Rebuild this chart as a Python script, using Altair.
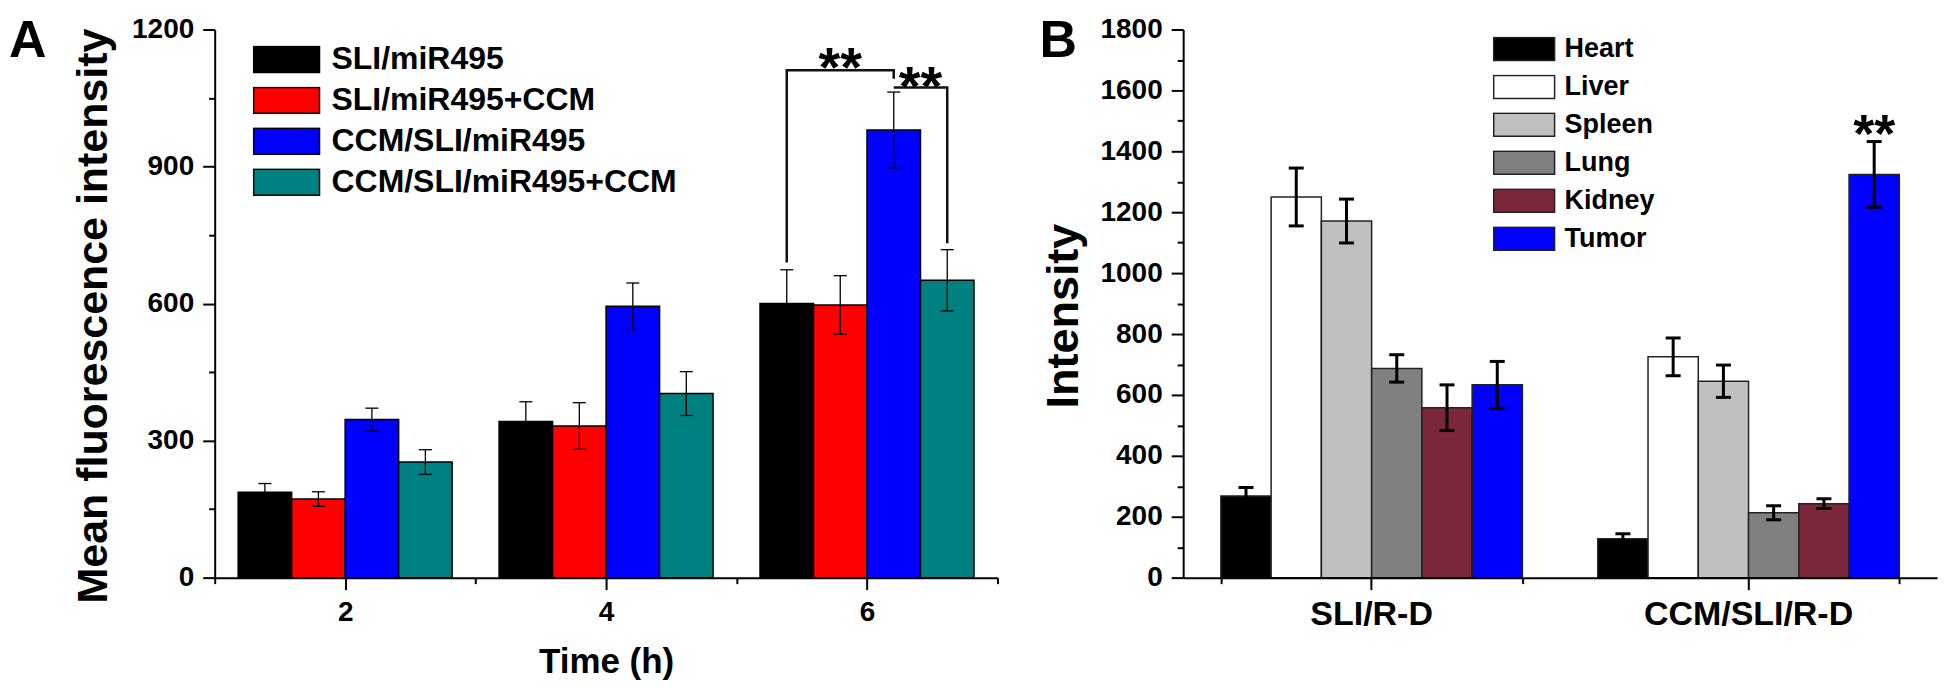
import altair as alt
import pandas as pd

FONT = "Liberation Sans"

# ---------------- Panel A data ----------------
times = [2, 4, 6]
series_a = ["SLI/miR495", "SLI/miR495+CCM", "CCM/SLI/miR495", "CCM/SLI/miR495+CCM"]
colors_a = ["#000000", "#ff0000", "#0000ff", "#008080"]
sli_mir495 = [187, 342, 600]
sli_mir495_err = [19, 43, 74]
sli_mir495_ccm = [172, 332, 597]
sli_mir495_ccm_err = [16, 51, 64]
ccm_sli_mir495 = [346, 594, 980]
ccm_sli_mir495_err = [25, 51, 83]
ccm_sli_mir495_ccm = [253, 403, 651]
ccm_sli_mir495_ccm_err = [27, 48, 67]
y_ticks_a = [0, 300, 600, 900, 1200]
y_minor_a = [150, 450, 750, 1050]
x_minor_a = [1, 3, 5, 7]
bracket1_y = [690, 1111, 1111, 1092]   # SLI/miR495 -> CCM/SLI/miR495 at 6 h
bracket2_y = [1073, 1073, 732]         # CCM/SLI/miR495 -> CCM/SLI/miR495+CCM at 6 h
stars_a_y = [1146, 1104]

# ---------------- Panel B data ----------------
groups_b = ["SLI/R-D", "CCM/SLI/R-D"]
organs = ["Heart", "Liver", "Spleen", "Lung", "Kidney", "Tumor"]
colors_b = ["#000000", "#ffffff", "#c0c0c0", "#808080", "#7b263b", "#0000ff"]
sli_rd = [268, 1250, 1171, 687, 558, 633]
sli_rd_err = [28, 95, 72, 45, 75, 77]
ccm_sli_rd = [128, 725, 645, 213, 243, 1324]
ccm_sli_rd_err = [16, 62, 53, 23, 16, 108]
y_ticks_b = [0, 200, 400, 600, 800, 1000, 1200, 1400, 1600, 1800]
y_minor_b = [100, 300, 500, 700, 900, 1100, 1300, 1500, 1700]
star_b_y = [1501]

# ---------------- build tables ----------------
BAR_W = 0.41
CAP_A = 0.05
rows = []
pairs_a = [(sli_mir495, sli_mir495_err), (sli_mir495_ccm, sli_mir495_ccm_err),
           (ccm_sli_mir495, ccm_sli_mir495_err), (ccm_sli_mir495_ccm, ccm_sli_mir495_ccm_err)]
for gi, (name, (m, e)) in enumerate(zip(series_a, pairs_a)):
    for t, mv, ev in zip(times, m, e):
        c = t + (gi - 1.5) * BAR_W
        rows.append(dict(Time=t, Series=name, Mean=mv, base=0, lo=mv - ev, hi=mv + ev,
                         x0=c - BAR_W / 2, x1=c + BAR_W / 2, xc=c, c0=c - CAP_A, c1=c + CAP_A))
dfA = pd.DataFrame(rows)


def center(t, gi):
    return t + (gi - 1.5) * BAR_W


bx1 = [center(6, 0), center(6, 0), center(6, 2), center(6, 2)]
bx2 = [center(6, 2), center(6, 3), center(6, 3)]
dfBr = pd.DataFrame({
    "bx": bx1 + bx2,
    "by": bracket1_y + bracket2_y,
    "bid": ["b1"] * 4 + ["b2"] * 3,
    "ord": list(range(4)) + list(range(3)),
})
dfStarA = pd.DataFrame({
    "sx": [(center(6, 0) + center(6, 2)) / 2, (center(6, 2) + center(6, 3)) / 2],
    "sy": stars_a_y,
    "label": ["**", "**"],
})

rowsB = []
for g, (m, e) in zip(groups_b, [(sli_rd, sli_rd_err), (ccm_sli_rd, ccm_sli_rd_err)]):
    for o, mv, ev in zip(organs, m, e):
        rowsB.append(dict(Group=g, Organ=o, Mean=mv, lo=mv - ev, hi=mv + ev))
dfB = pd.DataFrame(rowsB)
dfStarB = pd.DataFrame({"Group": ["CCM/SLI/R-D"], "Organ": ["Tumor"], "sy": star_b_y, "label": ["**"]})

# ---------------- Panel A chart ----------------
W_A, W_B, H = 784, 755, 549
xsA = alt.Scale(domain=[1, 7], nice=False, zero=False)
ysA = alt.Scale(domain=[0, 1200], nice=False, zero=True)

ax_x_a = alt.Axis(values=times, format="d", title="Time (h)", titleFontSize=35, titlePadding=18,
                  labelFontSize=28, labelPadding=9, tickSize=12, labelFlush=False, labelOverlap=False,
                  orient="bottom", zindex=1)
ax_x_a_minor = alt.Axis(values=x_minor_a, labels=False, domain=False, tickSize=6, title=None,
                        orient="bottom", zindex=1)
ax_y_a = alt.Axis(values=y_ticks_a, format="d", title="Mean fluorescence intensity", titleFontSize=43,
                  titlePadding=16, titleY=H / 2 + 12, labelFontSize=28, labelPadding=9, tickSize=12,
                  labelFlush=False, labelOverlap=False, orient="left", zindex=1)
ax_y_a_minor = alt.Axis(values=y_minor_a, labels=False, domain=False, tickSize=6, title=None,
                        orient="left", zindex=1)

legA = alt.Legend(orient="none", legendX=38, legendY=16, title=None,
                  symbolType="M-1,-0.394H1V0.394H-1Z", symbolSize=4356,
                  symbolStrokeColor="black", symbolStrokeWidth=1.5, symbolOpacity=1,
                  labelFont=FONT, labelFontSize=32, labelFontWeight="bold", labelColor="black",
                  labelOffset=11, rowPadding=9, clipHeight=28, padding=0, labelLimit=600)

barsA = alt.Chart(dfA).mark_bar(stroke="black", strokeWidth=1.5).encode(
    x=alt.X("x0:Q", scale=xsA, axis=ax_x_a),
    x2="x1:Q",
    y=alt.Y("Mean:Q", scale=ysA, axis=ax_y_a),
    y2="base:Q",
    color=alt.Color("Series:N", scale=alt.Scale(domain=series_a, range=colors_a), legend=legA),
)
errA = alt.Chart(dfA).mark_rule(color="black", strokeWidth=1.3).encode(
    x=alt.X("xc:Q", scale=xsA, axis=ax_x_a_minor),
    y=alt.Y("lo:Q", scale=ysA, axis=ax_y_a_minor),
    y2="hi:Q",
)
capHiA = alt.Chart(dfA).mark_rule(color="black", strokeWidth=1.3).encode(
    x=alt.X("c0:Q", scale=xsA, axis=None), x2="c1:Q",
    y=alt.Y("hi:Q", scale=ysA, axis=None),
)
capLoA = alt.Chart(dfA).mark_rule(color="black", strokeWidth=1.3).encode(
    x=alt.X("c0:Q", scale=xsA, axis=None), x2="c1:Q",
    y=alt.Y("lo:Q", scale=ysA, axis=None),
)
bracketsA = alt.Chart(dfBr).mark_line(color="#111111", strokeWidth=2.5).encode(
    x=alt.X("bx:Q", scale=xsA, axis=None),
    y=alt.Y("by:Q", scale=ysA, axis=None),
    detail="bid:N",
    order="ord:Q",
)
STAR_FS = 56
starsA = alt.Chart(dfStarA).mark_text(font=FONT, fontSize=STAR_FS, fontWeight="bold", color="black",
                                      baseline="alphabetic", align="center", dy=0.575 * STAR_FS).encode(
    x=alt.X("sx:Q", scale=xsA, axis=None),
    y=alt.Y("sy:Q", scale=ysA, axis=None),
    text="label:N",
)
labelA = alt.Chart(pd.DataFrame({"t": ["A"]})).mark_text(
    font=FONT, fontSize=52, fontWeight="bold", color="black", align="left", baseline="alphabetic"
).encode(x=alt.value(-206), y=alt.value(28), text="t:N")

panelA = alt.layer(barsA, errA, capHiA, capLoA, bracketsA, starsA, labelA).resolve_axis(
    x="independent", y="independent").properties(width=W_A, height=H)

# ---------------- Panel B chart ----------------
xsB = alt.Scale(domain=groups_b, paddingInner=0.2, paddingOuter=0.1)
xoB = alt.XOffset("Organ:N", sort=organs, scale=alt.Scale(domain=organs, paddingInner=0, paddingOuter=0))
ysB = alt.Scale(domain=[0, 1800], nice=False, zero=True)

ax_x_b = alt.Axis(title=None, labelAngle=0, labelFontSize=34, labelPadding=8, tickSize=12,
                  labelLimit=600, orient="bottom", zindex=1)
ax_x_b_minor = alt.Axis(tickBand="extent", labels=False, domain=False, tickSize=6, title=None,
                        orient="bottom", zindex=1)
ax_y_b = alt.Axis(values=y_ticks_b, format="d", title="Intensity", titleFontSize=45, titlePadding=14,
                  titleY=H / 2 + 12, labelFontSize=28, labelPadding=9, tickSize=12, labelFlush=False,
                  labelOverlap=False, orient="left", zindex=1)
ax_y_b_minor = alt.Axis(values=y_minor_b, labels=False, domain=False, tickSize=6, title=None,
                        orient="left", zindex=1)

legB = alt.Legend(orient="none", legendX=310, legendY=7, title=None,
                  symbolType="M-1,-0.377H1V0.377H-1Z", symbolSize=3721,
                  symbolStrokeColor="#222222", symbolStrokeWidth=1.5, symbolOpacity=1,
                  labelFont=FONT, labelFontSize=27, labelFontWeight="bold", labelColor="black",
                  labelOffset=9, rowPadding=10, clipHeight=25, padding=0, labelLimit=600)

barsB = alt.Chart(dfB).mark_bar(stroke="#222222", strokeWidth=1.5).encode(
    x=alt.X("Group:N", sort=groups_b, scale=xsB, axis=ax_x_b),
    xOffset=xoB,
    y=alt.Y("Mean:Q", scale=ysB, axis=ax_y_b),
    color=alt.Color("Organ:N", scale=alt.Scale(domain=organs, range=colors_b), legend=legB),
)
errB = alt.Chart(dfB).mark_rule(color="black", strokeWidth=3).encode(
    x=alt.X("Group:N", sort=groups_b, scale=xsB, axis=ax_x_b_minor),
    xOffset=xoB,
    y=alt.Y("lo:Q", scale=ysB, axis=ax_y_b_minor),
    y2="hi:Q",
)
capHiB = alt.Chart(dfB).mark_tick(color="black", thickness=3, size=15, opacity=1).encode(
    x=alt.X("Group:N", sort=groups_b, scale=xsB, axis=None),
    xOffset=xoB,
    y=alt.Y("hi:Q", scale=ysB, axis=None),
)
capLoB = alt.Chart(dfB).mark_tick(color="black", thickness=3, size=15, opacity=1).encode(
    x=alt.X("Group:N", sort=groups_b, scale=xsB, axis=None),
    xOffset=xoB,
    y=alt.Y("lo:Q", scale=ysB, axis=None),
)
STAR_FS_B = 54
starsB = alt.Chart(dfStarB).mark_text(font=FONT, fontSize=STAR_FS_B, fontWeight="bold", color="black",
                                      baseline="alphabetic", align="center", dy=0.575 * STAR_FS_B).encode(
    x=alt.X("Group:N", sort=groups_b, scale=xsB, axis=None),
    xOffset=xoB,
    y=alt.Y("sy:Q", scale=ysB, axis=None),
    text="label:N",
)
labelB = alt.Chart(pd.DataFrame({"t": ["B"]})).mark_text(
    font=FONT, fontSize=52, fontWeight="bold", color="black", align="left", baseline="alphabetic"
).encode(x=alt.value(-144), y=alt.value(28), text="t:N")

panelB = alt.layer(barsB, errB, capHiB, capLoB, starsB, labelB).resolve_axis(
    x="independent", y="independent").properties(width=W_B, height=H)

chart = alt.hconcat(panelA, panelB, spacing=39).resolve_scale(color="independent").properties(
    padding={"top": 6, "left": 0, "right": 0, "bottom": 0}
).configure_view(stroke="transparent").configure_axis(
    grid=False, domainColor="black", tickColor="black", labelColor="black", titleColor="black",
    domainWidth=2, tickWidth=2, labelFont=FONT, titleFont=FONT,
    labelFontWeight="bold", titleFontWeight="bold"
)

chart.save("out.html", embed_options={"renderer": "svg", "actions": False})
